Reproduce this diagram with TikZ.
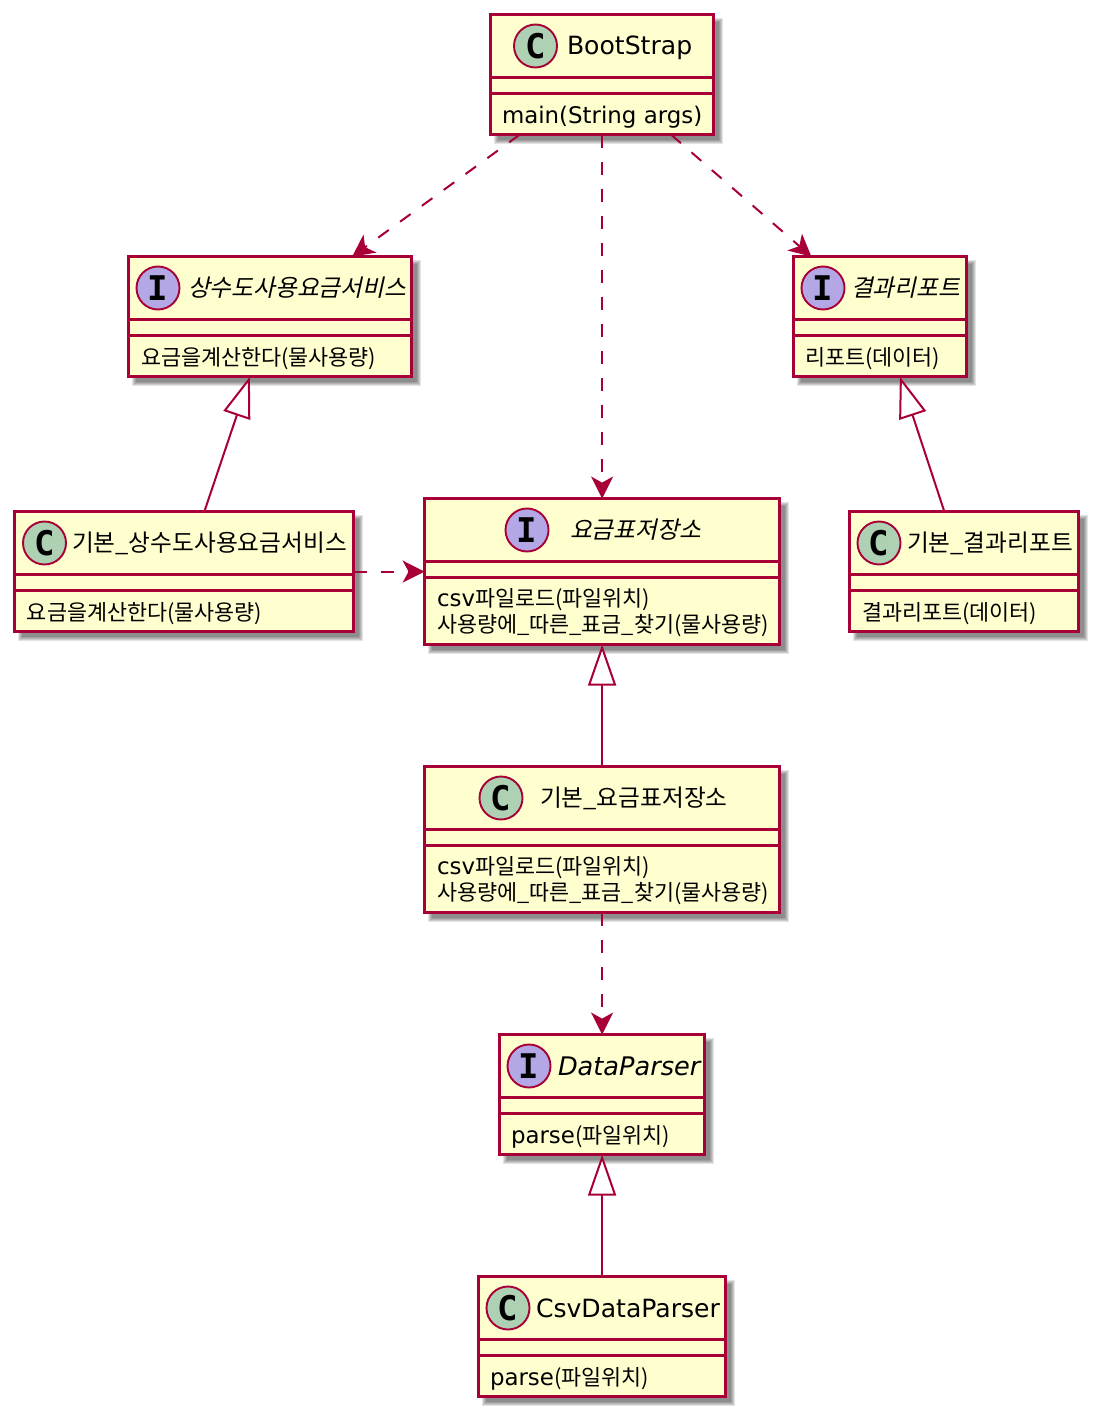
\documentclass[tikz,border=0pt]{standalone}
\usepackage{fontspec}
\setmainfont{Noto Sans CJK KR}
\newfontfamily\lat{DejaVu Sans}
\newfontfamily\latmono{DejaVu Sans Mono}
\newfontfamily\krit[FakeSlant=0.22]{Noto Sans CJK KR}
\usetikzlibrary{arrows.meta}
\definecolor{umlborder}{HTML}{A80036}
\definecolor{umlfill}{HTML}{FEFECE}
\definecolor{circC}{HTML}{ADD1B2}
\definecolor{circI}{HTML}{B4A7E5}
\newcommand{\ttl}{\fontsize{23.7}{28}\selectfont}
\newcommand{\ttlat}{\lat\fontsize{25.1}{28}\selectfont}
\newcommand{\mem}{\fontsize{21.8}{26}\selectfont}
\newcommand{\memlat}[1]{{\lat\fontsize{22.9}{26}\selectfont #1}}
\tikzset{
  umlbox/.style={draw=umlborder,fill=umlfill,line width=3pt,rectangle,inner sep=0pt,outer sep=0pt},
  divider/.style={draw=umlborder,line width=3pt},
  badge/.style={circle,draw=umlborder,line width=1.9pt,minimum size=43pt,inner sep=0pt,outer sep=0pt,
    font=\latmono\bfseries\fontsize{34}{34}\selectfont},
  badgeC/.style={badge,fill=circC},
  badgeI/.style={badge,fill=circI},
  label/.style={anchor=base west,inner sep=0pt,outer sep=0pt,text=black},
  depends/.style={draw=umlborder,line width=2pt,dash pattern=on 13pt off 14pt,
    -{Stealth[length=22pt,width=22pt,inset=6pt,color=umlborder]}},
  inherits/.style={draw=umlborder,line width=2pt,
    -{Triangle[open,length=41pt,width=28pt,fill=white,color=umlborder]}},
}
% name, x1, y1, x2, y2, divider 1, divider 2
\newcommand{\umlclass}[7]{%
  \foreach \g in {0,1,2,3,4}{%
    \fill[black,opacity=0.11] ({#2+3+\g},{#3+3+\g}) rectangle ({#4+9-\g},{#5+9-\g});
  }
  \node[umlbox,minimum width={(#4-#2)*1pt},minimum height={(#5-#3)*1pt}] (#1) at ({(#2+#4)/2-0.4},{(#3+#5)/2-0.4}) {};
  \draw[divider] (#1.west |- 0,#6-0.4) -- (#1.east |- 0,#6-0.4);
  \draw[divider] (#1.west |- 0,#7-0.4) -- (#1.east |- 0,#7-0.4);
}
\begin{document}
\begin{tikzpicture}[x=1pt,y=-1pt]
\useasboundingbox[fill=white] (0,0) rectangle (1105,1423);

\umlclass{boot}{491}{15}{714}{135}{78}{94}
\node[badgeC] (bootC) at (535.5,46) {C};
\node[label] (bootT) at (567,55) {\ttlat BootStrap};
\node[label] (bootM) at (502,124) {\memlat{main(String args)}};

\umlclass{svc}{129}{257}{412}{377}{320}{336}
\node[badgeI] (svcC) at (158,288) {I};
\node[label] (svcT) at (188,296) {\krit\ttl 상수도사용요금서비스};
\node[label] (svcM) at (141,365) {\mem 요금을계산한다(물사용량)};

\umlclass{rep}{794}{257}{967}{377}{320}{336}
\node[badgeI] (repC) at (823,288) {I};
\node[label] (repT) at (851,296) {\krit\ttl 결과리포트};
\node[label] (repM) at (805,365) {\mem 리포트(데이터)};

\umlclass{dsvc}{15}{512}{354}{632}{575}{591}
\node[badgeC] (dsvcC) at (44.5,543) {C};
\node[label] (dsvcT) at (72,551) {\ttl 기본\_상수도사용요금서비스};
\node[label] (dsvcM) at (27,620) {\mem 요금을계산한다(물사용량)};

\umlclass{store}{425}{499}{780}{645}{562}{578}
\node[badgeI] (storeC) at (527,530) {I};
\node[label] (storeT) at (570,538) {\krit\ttl 요금표저장소};
\node[label] (storeM) at (437,606) {\mem \memlat{csv}파일로드(파일위치)};
\node[label] (storeN) at (437,632) {\mem 사용량에\_따른\_표금\_찾기(물사용량)};

\umlclass{drep}{850}{512}{1079}{632}{575}{591}
\node[badgeC] (drepC) at (879,543) {C};
\node[label] (drepT) at (907,551) {\ttl 기본\_결과리포트};
\node[label] (drepM) at (862,620) {\mem 결과리포트(데이터)};

\umlclass{dstore}{425}{767}{780}{913}{830}{846}
\node[badgeC] (dstoreC) at (501,798) {C};
\node[label] (dstoreT) at (540,806) {\ttl 기본\_요금표저장소};
\node[label] (dstoreM) at (437,874) {\mem \memlat{csv}파일로드(파일위치)};
\node[label] (dstoreN) at (437,900) {\mem 사용량에\_따른\_표금\_찾기(물사용량)};

\umlclass{parser}{500}{1035}{705}{1155}{1098}{1114}
\node[badgeI] (parserC) at (529,1066) {I};
\node[label] (parserT) at (558,1075) {\lat\itshape\fontsize{25.6}{28}\selectfont DataParser};
\node[label] (parserM) at (511,1143) {\mem \memlat{parse}(파일위치)};

\umlclass{csv}{479}{1277}{726}{1397}{1340}{1356}
\node[badgeC] (csvC) at (508,1308) {C};
\node[label] (csvT) at (536,1317) {\ttlat CsvDataParser};
\node[label] (csvM) at (490,1385) {\mem \memlat{parse}(파일위치)};

\draw[depends] (boot) -- (svc);
\draw[depends] (boot) -- (store);
\draw[depends] (boot) -- (rep);
\draw[depends] (dsvc) -- (store);
\draw[depends] (dstore) -- (parser);
\draw[inherits] (dsvc) -- (svc);
\draw[inherits] (drep) -- (rep);
\draw[inherits] (dstore) -- (store);
\draw[inherits] (csv) -- (parser);
\end{tikzpicture}
\end{document}
